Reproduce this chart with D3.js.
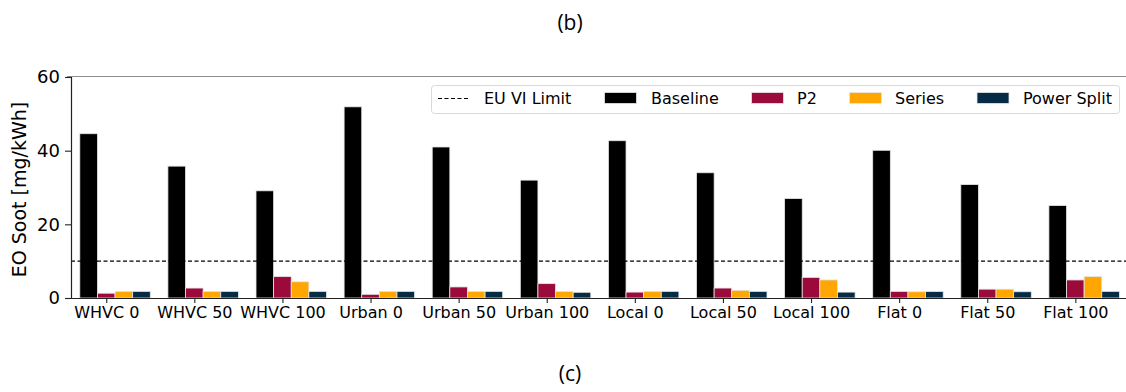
<!DOCTYPE html>
<html>
<head>
<meta charset="utf-8">
<script src="https://cdn.jsdelivr.net/npm/d3@7"></script>
<style>
  html, body { margin: 0; padding: 0; background: #fff; }
  svg { display: block; }
  text { font-family: "DejaVu Sans", sans-serif; fill: #000; }
</style>
</head>
<body>
<svg id="chart" width="1126" height="392"></svg>
<script>
// Drive cycles / grade categories
const categories = ["WHVC 0", "WHVC 50", "WHVC 100", "Urban 0", "Urban 50", "Urban 100",
                    "Local 0", "Local 50", "Local 100", "Flat 0", "Flat 50", "Flat 100"];

// Engine-out soot per powertrain [mg/kWh]
const baseline   = [44.6, 35.8, 29.1, 51.9, 41.0, 32.0, 42.7, 34.0, 27.0, 40.1, 30.8, 25.1];
const p2         = [1.3, 2.7, 5.8, 1.0, 3.0, 3.9, 1.6, 2.7, 5.6, 1.8, 2.4, 4.9];
const seriesHyb  = [1.8, 1.8, 4.4, 1.8, 1.8, 1.8, 1.8, 2.1, 4.9, 1.7, 2.4, 5.8];
const powerSplit = [1.8, 1.8, 1.8, 1.8, 1.8, 1.55, 1.8, 1.8, 1.6, 1.75, 1.7, 1.8];

// EU VI limit
const euLimit = 10;
const yTicks = [0, 20, 40, 60];

const seriesList = [
  { name: "Baseline",    values: baseline,   color: "#000000" },
  { name: "P2",          values: p2,         color: "#9b0a3b" },
  { name: "Series",      values: seriesHyb,  color: "#ffa600" },
  { name: "Power Split", values: powerSplit, color: "#062b45" }
];

const svg = d3.select("#chart");

const plot = { left: 71, right: 1126, top: 77, bottom: 298 };
const barW = 0.2;

const x = d3.scaleLinear().domain([-0.4, 11.575]).range([plot.left, plot.right]);
const y = d3.scaleLinear().domain([0, 60]).range([plot.bottom, plot.top]);

// Panel captions
svg.append("text")
  .attr("x", 570).attr("y", 30)
  .attr("text-anchor", "middle")
  .style("font-family", "'Open Sans', 'Noto Sans', sans-serif")
  .style("font-size", "21px")
  .text("(b)");

svg.append("text")
  .attr("x", 570).attr("y", 381)
  .attr("text-anchor", "middle")
  .style("font-family", "'Open Sans', 'Noto Sans', sans-serif")
  .style("font-size", "21px")
  .text("(c)");

// Top frame line
svg.append("line")
  .attr("x1", 67).attr("x2", plot.right)
  .attr("y1", plot.top - 0.5).attr("y2", plot.top - 0.5)
  .attr("stroke", "#8c8c8c").attr("stroke-width", 1.2);

// Bars
const groups = svg.append("g");
seriesList.forEach((s, k) => {
  groups.append("g")
    .selectAll("rect")
    .data(s.values)
    .join("rect")
    .attr("x", (d, i) => x(i + (k - 1) * barW - barW / 2))
    .attr("width", x(barW) - x(0))
    .attr("y", d => y(d))
    .attr("height", d => y(0) - y(d))
    .attr("fill", s.color)
    .attr("stroke", "#e6e6e6")
    .attr("stroke-width", 0.8);
});

// EU VI limit line
svg.append("line")
  .attr("x1", plot.left).attr("x2", plot.right)
  .attr("y1", y(euLimit)).attr("y2", y(euLimit))
  .attr("stroke", "#000").attr("stroke-width", 1.3)
  .attr("stroke-dasharray", "4,2.5");

// Axes
const xAxis = d3.axisBottom(x)
  .tickValues(d3.range(categories.length))
  .tickFormat(i => categories[i])
  .tickSize(5).tickPadding(4);

const gx = svg.append("g")
  .attr("transform", `translate(0,${plot.bottom})`)
  .call(xAxis);
gx.select(".domain").attr("stroke", "#222").attr("stroke-width", 1.2)
  .attr("d", `M${plot.left},0.5H${plot.right}`);
gx.selectAll(".tick line").attr("stroke", "#222").attr("stroke-width", 1.1);
gx.selectAll(".tick text").style("font-size", "16px").style("font-family", "'DejaVu Sans', sans-serif");

const yAxis = d3.axisLeft(y).tickValues(yTicks).tickSize(6).tickPadding(5);
const gy = svg.append("g")
  .attr("transform", `translate(${plot.left},0)`)
  .call(yAxis);
gy.select(".domain").attr("stroke", "#222").attr("stroke-width", 1.2)
  .attr("d", `M0.5,${plot.top}V${plot.bottom}`);
gy.selectAll(".tick line").attr("stroke", "#222").attr("stroke-width", 1.1);
gy.selectAll(".tick text").style("font-size", "18px").style("font-family", "'DejaVu Sans', sans-serif");

// Y label
svg.append("text")
  .attr("transform", `translate(26,${(plot.top + plot.bottom) / 2 + 2}) rotate(-90)`)
  .attr("text-anchor", "middle")
  .style("font-size", "19px")
  .text("EO Soot [mg/kWh]");

// Legend
const legend = svg.append("g");
legend.append("rect")
  .attr("x", 431.5).attr("y", 85.5)
  .attr("width", 688).attr("height", 28)
  .attr("rx", 3).attr("ry", 3)
  .attr("fill", "#fff").attr("fill-opacity", 0.85)
  .attr("stroke", "#d9d9d9").attr("stroke-width", 1);

const legendY = 98.5;
legend.append("line")
  .attr("x1", 438).attr("x2", 470)
  .attr("y1", legendY).attr("y2", legendY)
  .attr("stroke", "#000").attr("stroke-width", 1.2)
  .attr("stroke-dasharray", "4,2.5");
legend.append("text")
  .attr("x", 484).attr("y", legendY + 5.5)
  .style("font-size", "16px")
  .text("EU VI Limit");

const patchX = [604.5, 751.5, 849.5, 977];
const labelX = [651, 797, 895, 1023];
seriesList.forEach((s, k) => {
  legend.append("rect")
    .attr("x", patchX[k]).attr("y", 92.5)
    .attr("width", 32).attr("height", 11)
    .attr("fill", s.color)
    .attr("stroke", "#e6e6e6").attr("stroke-width", 0.8);
  legend.append("text")
    .attr("x", labelX[k]).attr("y", legendY + 5.5)
    .style("font-size", "16px")
    .text(s.name);
});
</script>
</body>
</html>
